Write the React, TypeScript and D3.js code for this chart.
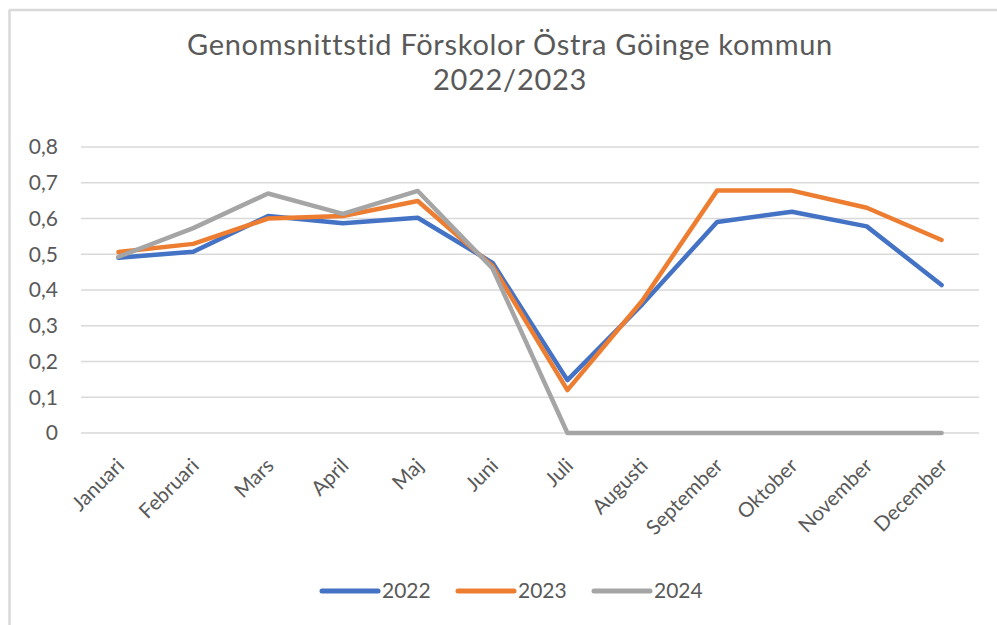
import React from 'react';
import * as d3 from 'd3';

const months = [
  'Januari', 'Februari', 'Mars', 'April', 'Maj', 'Juni',
  'Juli', 'Augusti', 'September', 'Oktober', 'November', 'December',
];

const values2022 = [0.49, 0.507, 0.607, 0.587, 0.602, 0.476, 0.148, 0.36, 0.59, 0.619, 0.578, 0.414];
const values2023 = [0.506, 0.529, 0.6, 0.607, 0.649, 0.467, 0.12, 0.37, 0.678, 0.678, 0.63, 0.54];
const values2024 = [0.493, 0.573, 0.67, 0.613, 0.677, 0.46, 0, 0, 0, 0, 0, 0];

const yTicks = [0, 0.1, 0.2, 0.3, 0.4, 0.5, 0.6, 0.7, 0.8];

const series = [
  { name: '2022', values: values2022, color: '#4472C4' },
  { name: '2023', values: values2023, color: '#ED7D31' },
  { name: '2024', values: values2024, color: '#A5A5A5' },
];

const W = 997;
const H = 625;
const FONT = 'Lato, "Open Sans", sans-serif';
const TEXT = '#595959';

export default function App() {
  const x = d3.scaleBand<string>().domain(months).range([81, 979]);
  const y = d3.scaleLinear().domain([0, 0.8]).range([433, 147]);
  const cx = (m: string) => (x(m) ?? 0) + x.bandwidth() / 2;

  const line = d3
    .line<number>()
    .x((_, i) => cx(months[i]))
    .y((d) => y(d));

  const fmt = (v: number) => (v === 0 ? '0' : d3.format('.1f')(v).replace('.', ','));

  // legend layout
  const legendX = [322, 458, 594];

  return (
    <svg
      width={W}
      height={H}
      style={{ position: 'absolute', left: 0, top: 0, background: '#fff' }}
      fontFamily={FONT}
    >
      {/* chart frame (only top/left visible) */}
      <line x1={9} x2={W} y1={10} y2={10} stroke="#D9D9D9" strokeWidth={2.5} />
      <line x1={9.5} x2={9.5} y1={10} y2={H} stroke="#D9D9D9" strokeWidth={2.5} />

      {/* title */}
      <text x={510} y={55} textAnchor="middle" fontSize={29} letterSpacing={0.7} fill={TEXT}>
        Genomsnittstid Förskolor Östra Göinge kommun
      </text>
      <text x={510} y={90} textAnchor="middle" fontSize={29} letterSpacing={0.7} fill={TEXT}>
        2022/2023
      </text>

      {/* gridlines + y labels */}
      {yTicks.map((t) => (
        <g key={t}>
          <line x1={81} x2={979} y1={y(t)} y2={y(t)} stroke="#D9D9D9" strokeWidth={1.5} />
          <text x={58} y={y(t)} dy="0.35em" textAnchor="end" fontSize={21} fill={TEXT}>
            {fmt(t)}
          </text>
        </g>
      ))}

      {/* x labels */}
      {months.map((m) => (
        <text
          key={m}
          transform={`translate(${cx(m) + 7},${467}) rotate(-45)`}
          textAnchor="end"
          fontSize={20.5}
          fill={TEXT}
        >
          {m}
        </text>
      ))}

      {/* series lines */}
      {series.map((s) => (
        <path
          key={s.name}
          d={line(s.values) ?? ''}
          fill="none"
          stroke={s.color}
          strokeWidth={4.5}
          strokeLinejoin="round"
          strokeLinecap="round"
        />
      ))}

      {/* legend */}
      {series.map((s, i) => (
        <g key={s.name}>
          <line
            x1={legendX[i]}
            x2={legendX[i] + 56}
            y1={591}
            y2={591}
            stroke={s.color}
            strokeWidth={5}
            strokeLinecap="round"
          />
          <text x={legendX[i] + 60} y={591} dy="0.35em" fontSize={21} fill={TEXT}>
            {s.name}
          </text>
        </g>
      ))}
    </svg>
  );
}
